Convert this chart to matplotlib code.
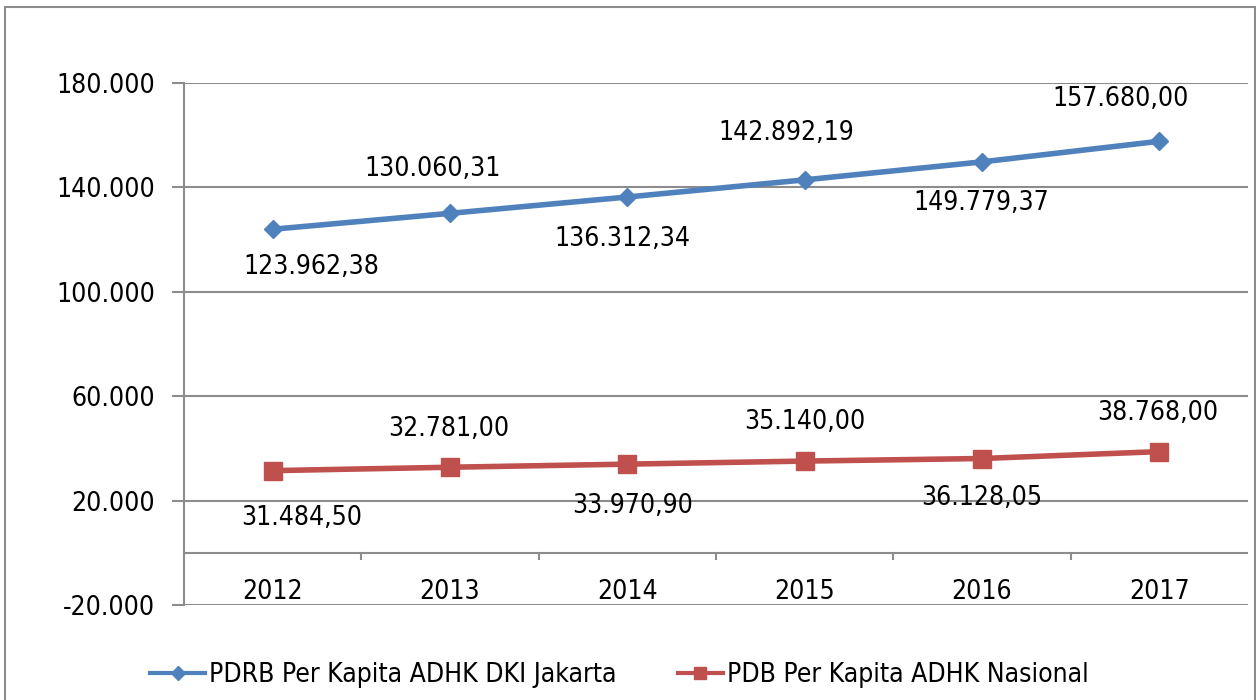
import numpy as np
import matplotlib
matplotlib.use("Agg")
import matplotlib.pyplot as plt
from matplotlib.patches import Rectangle
from matplotlib.lines import Line2D

plt.rcParams["font.family"] = ["DejaVu Sans"]
plt.rcParams["font.stretch"] = "condensed"

years = ["2012", "2013", "2014", "2015", "2016", "2017"]
jakarta = [123962.38, 130060.31, 136312.34, 142892.19, 149779.37, 157680.00]
nasional = [31484.50, 32781.00, 33970.90, 35140.00, 36128.05, 38768.00]
jakarta_lbl = ["123.962,38", "130.060,31", "136.312,34", "142.892,19", "149.779,37", "157.680,00"]
nasional_lbl = ["31.484,50", "32.781,00", "33.970,90", "35.140,00", "36.128,05", "38.768,00"]
yticks = [-20000, 20000, 60000, 100000, 140000, 180000]
ytick_lbl = ["-20.000", "20.000", "60.000", "100.000", "140.000", "180.000"]
names = ["PDRB Per Kapita ADHK DKI Jakarta", "PDB Per Kapita ADHK Nasional"]

# label offsets in pixels (dx, dy)
off_j = [(39, -38), (-17, 44), (-5, -42), (-18, 47), (-1, -41), (-39, 42)]
off_n = [(29, -47), (-1, 38), (5, -42), (0, 39), (0, -39), (-2, 39)]

BLUE = "#4F81BD"; RED = "#C0504D"; GRID = "#8c8c8c"
FS = 19
fig = plt.figure(figsize=(12.56, 7.0), dpi=100)
fig.patches.append(Rectangle((5/1256, -0.01), 1250/1256, 1 - 7/700 + 0.01, transform=fig.transFigure,
                             fill=False, edgecolor="#8c8c8c", lw=1.5))
ax = fig.add_axes([184/1256, 1 - 605/700, 1064/1256, 522/700])
x = np.arange(len(years))
ax.set_xlim(-0.5, 5.5); ax.set_ylim(-20000, 180000)
for v in yticks:
    ax.axhline(v, color=GRID, lw=1.5, zorder=0)
ax.axhline(0, color=GRID, lw=1.5, zorder=0)
for b in np.arange(0.5, 5.5, 1):
    ax.plot([b, b], [0, -2400], color=GRID, lw=1.5, zorder=0)
for s in ["top", "right", "bottom"]:
    ax.spines[s].set_visible(False)
ax.spines["left"].set_color(GRID); ax.spines["left"].set_linewidth(1.5)
ax.set_yticks(yticks); ax.set_yticklabels(ytick_lbl, fontsize=FS)
ax.tick_params(axis="y", length=9, width=1.5, color=GRID, pad=12)
ax.set_xticks([])
for xi, yr in zip(x, years):
    ax.text(xi, -15000, yr, ha="center", va="center", fontsize=FS)

ax.plot(x, jakarta, color=BLUE, lw=4, marker="D", ms=9.5, zorder=3)
ax.plot(x, nasional, color=RED, lw=4, marker="s", ms=13, zorder=3)
for xi, v, t, o in zip(x, jakarta, jakarta_lbl, off_j):
    ax.annotate(t, (xi, v), xytext=o, textcoords="offset pixels", ha="center", va="center", fontsize=FS)
for xi, v, t, o in zip(x, nasional, nasional_lbl, off_n):
    ax.annotate(t, (xi, v), xytext=o, textcoords="offset pixels", ha="center", va="center", fontsize=FS)

handles = [Line2D([0], [0], color=BLUE, lw=3, marker="D", ms=7),
           Line2D([0], [0], color=RED, lw=3, marker="s", ms=9)]
for h, n, lx, hl in zip(handles, names, [150, 678], [2.1, 1.7]):
    fig.legend([h], [n], loc="center left", bbox_to_anchor=(lx/1256, 1 - 675/700), frameon=False,
               fontsize=FS, handlelength=hl, handletextpad=0.15, borderpad=0, borderaxespad=0)
fig.savefig("out.png", dpi=100)
